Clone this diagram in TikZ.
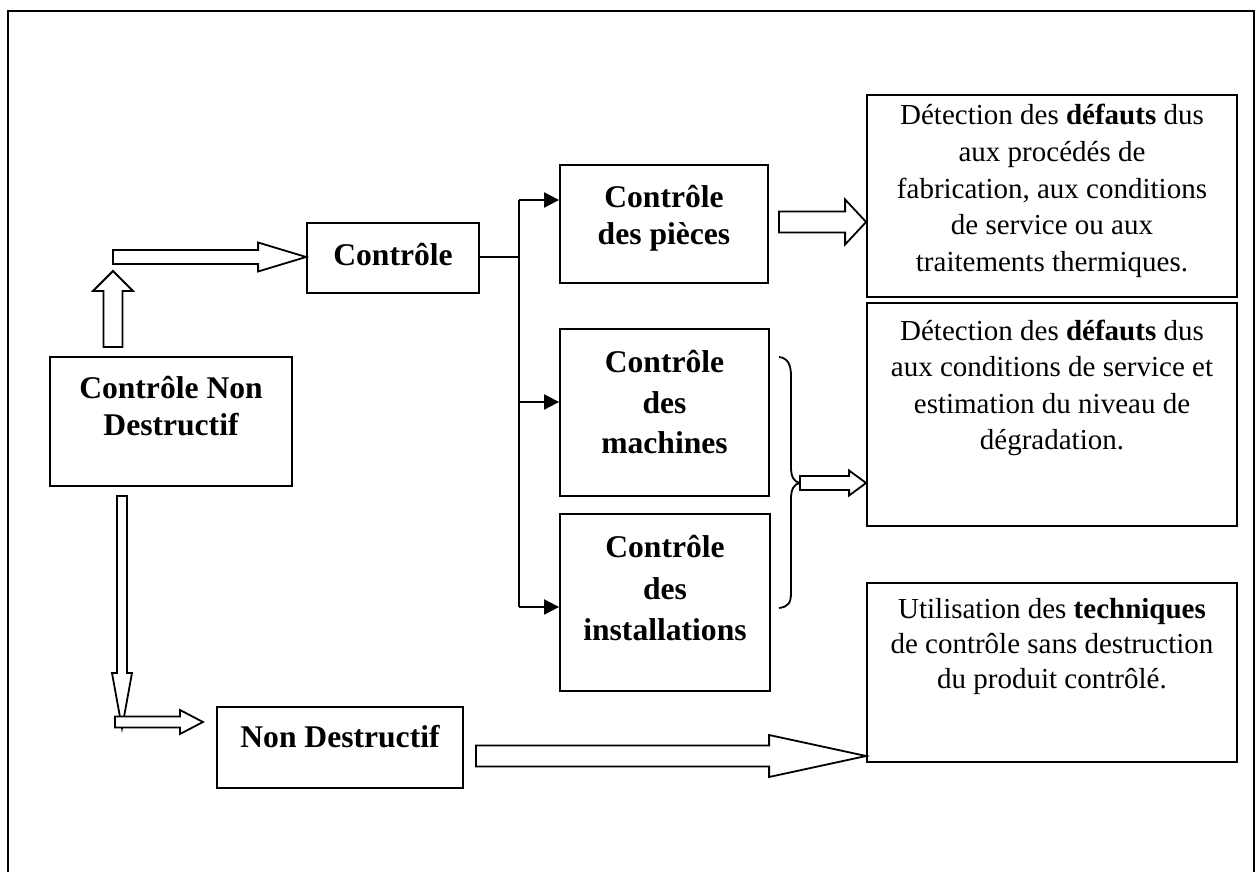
\documentclass[tikz,border=0pt]{standalone}
\usepackage{fontspec}
\setmainfont{Liberation Serif}
\usetikzlibrary{calc,arrows.meta}
\tikzset{
  box/.style={draw,line width=0.9pt,inner sep=0pt},
  btxt/.style={font=\fontsize{15.8}{18.5}\selectfont\bfseries,align=center,inner sep=0pt},
  rtxt/.style={font=\fontsize{14.5}{18.3}\selectfont,align=center,inner sep=0pt},
  hollowline/.style={draw,line width=0.9pt,fill=white,line join=miter},
  conn/.style={line width=1pt},
  tipconn/.style={conn,-{Triangle[length=7.5pt,width=7.5pt]}},
}
\newcommand\hollowarr[5]{%
  \coordinate (hh) at ($(#2)!#5!(#1)$);
  \draw[hollowline] ($(#1)!#3!90:(#2)$) -- ($(hh)!#3!90:(#2)$) -- ($(hh)!#4!90:(#2)$) -- (#2)
     -- ($(hh)!#4!-90:(#2)$) -- ($(hh)!#3!-90:(#2)$) -- ($(#1)!#3!-90:(#2)$) -- cycle;
}
\begin{document}
\begin{tikzpicture}[x=0.5pt,y=-0.5pt]
\useasboundingbox (0,0) rectangle (1260,872);
% outer frame
\draw[line width=1.1pt] (8,872) -- (8,11) -- (1254,11) -- (1254,872);

% boxes
\node[box,minimum width=121pt,minimum height=64.5pt] (cnd) at (171,421.5) {};
\node[btxt] (cndt) at (171,406) {Contrôle Non\\Destructif};

\node[box,minimum width=86pt,minimum height=35pt] (ctrl) at (393,258) {};
\node[btxt] (ctrlt) at (393,255) {Contrôle};

\node[box,minimum width=104pt,minimum height=59pt] (pieces) at (664,224) {};
\node[btxt] (piecest) at (664,218) {Contrôle\\des pièces};

\node[box,minimum width=104.5pt,minimum height=83.5pt] (mach) at (664.5,412.5) {};
\node[btxt,font=\fontsize{15.8}{20.25}\selectfont\bfseries] (macht) at (664.5,402.5) {Contrôle\\des\\machines};

\node[box,minimum width=105pt,minimum height=88.5pt] (inst) at (665,602.5) {};
\node[btxt,font=\fontsize{15.8}{20.75}\selectfont\bfseries] (instt) at (665,588.5) {Contrôle\\des\\installations};

\node[box,minimum width=185pt,minimum height=101pt] (d1) at (1052,196) {};
\node[rtxt] (d1t) at (1052,191) {Détection des \textbf{défauts} dus\\aux procédés de\\fabrication, aux conditions\\de service ou aux\\traitements thermiques.};

\node[box,minimum width=185pt,minimum height=111.5pt] (d2) at (1052,414.5) {};
\node[rtxt] (d2t) at (1052,388) {Détection des \textbf{défauts} dus\\aux conditions de service et\\estimation du niveau de\\dégradation.};

\node[box,minimum width=185pt,minimum height=89.5pt] (d3) at (1052,672.5) {};
\node[rtxt,font=\fontsize{14.5}{17.5}\selectfont] (d3t) at (1052,647) {Utilisation des \textbf{techniques}\\de contrôle sans destruction\\du produit contrôlé.};

\node[box,minimum width=123pt,minimum height=40.5pt] (nd) at (340,747.5) {};
\node[btxt] (ndt) at (340,737) {Non Destructif};

% tree connectors
\coordinate (j) at (519,257);
\draw[conn] (ctrl.east |- j) -- (j);
\draw[conn] (j |- 0,200) -- (j |- 0,607);
\draw[tipconn] (j |- 0,200) -- (pieces.west |- 0,200);
\draw[tipconn] (j |- 0,402) -- (mach.west |- 0,402);
\draw[tipconn] (j |- 0,607) -- (inst.west |- 0,607);

% brace
\coordinate (bt) at (800,483);
\draw[line width=0.9pt] (779,357) .. controls (788,358) and (791,365) .. (791,376) -- (791,467)
  .. controls (791,477) and (794,482) .. (bt)
  .. controls (794,484) and (791,489) .. (791,499) -- (791,593)
  .. controls (791,603) and (788,607) .. (779,608);

% hollow arrows
\coordinate (upS) at (113,347);
\coordinate (upT) at (113,271);
\hollowarr{upS}{upT}{4.75pt}{10pt}{10pt}

\coordinate (rS) at (113,257);
\coordinate (rT) at (ctrl.west |- rS);
\hollowarr{rS}{rT}{3.5pt}{7.25pt}{24pt}

\coordinate (pS) at (779,222);
\coordinate (pT) at (d1.west |- pS);
\hollowarr{pS}{pT}{5.25pt}{11.25pt}{10.5pt}

\coordinate (bT) at (d2.west |- bt);
\hollowarr{bt}{bT}{3.5pt}{6.25pt}{8.5pt}

\coordinate (dS) at (122,496);
\coordinate (dT) at (122,728);
\hollowarr{dS}{dT}{2.5pt}{5pt}{27.5pt}

\coordinate (sS) at (115,722);
\coordinate (sT) at (203,722);
\hollowarr{sS}{sT}{2.75pt}{6pt}{11.5pt}

\coordinate (gS) at (476,756);
\coordinate (gT) at (d3.west |- gS);
\hollowarr{gS}{gT}{5.25pt}{10.5pt}{48.5pt}
\end{tikzpicture}
\end{document}
